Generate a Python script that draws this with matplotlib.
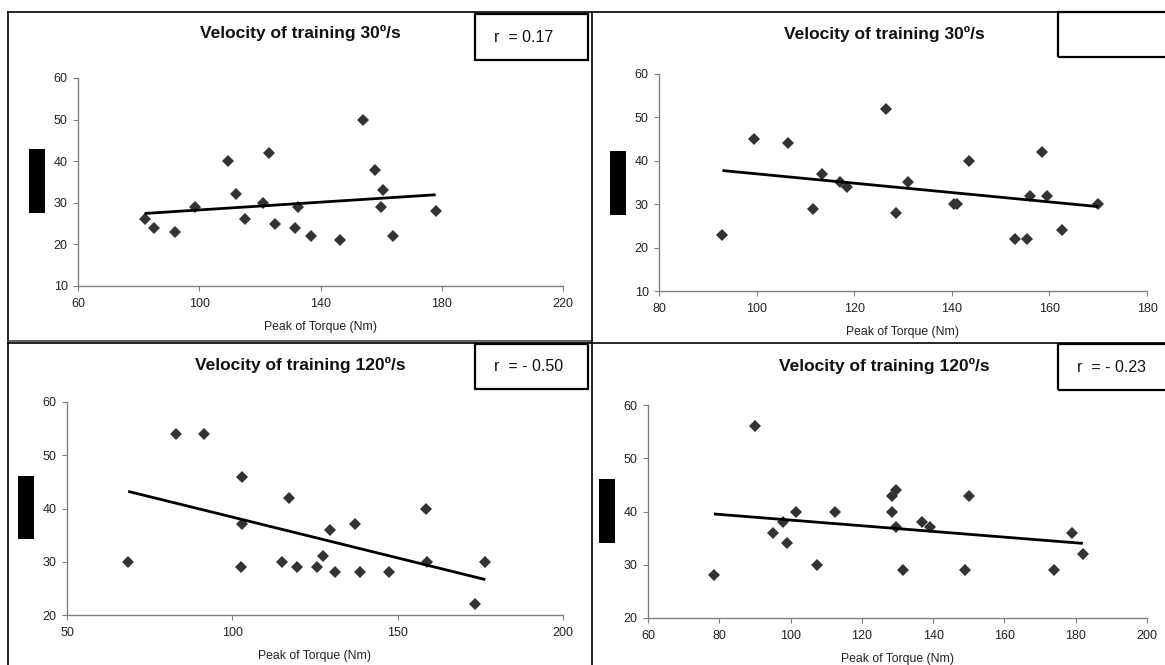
import matplotlib
matplotlib.use("Agg")
import matplotlib.pyplot as plt
from matplotlib.patches import Rectangle
from matplotlib.lines import Line2D
import numpy as np

plt.rcParams["font.family"] = ["Liberation Sans", "DejaVu Sans"]

W, H = 1165, 665

# 30º/s, first group
tl_torque = [82, 85, 92, 98.5, 109.5, 112, 115, 123, 121, 125, 131.5, 132.5,
             137, 146.5, 154, 158, 160.5, 160, 164, 178]
tl_value = [26, 24, 23, 29, 40, 32, 26, 42, 30, 25, 24, 29,
            22, 21, 50, 38, 33, 29, 22, 28]

# 30º/s, second group
tr_torque = [93, 99.5, 106.5, 111.5, 113.5, 117, 118.5, 126.5, 128.5, 131,
             140.5, 141, 143.5, 153, 155.5, 156, 158.5, 159.5, 162.5, 170]
tr_value = [23, 45, 44, 29, 37, 35, 34, 52, 28, 35,
            30, 30, 40, 22, 22, 32, 42, 32, 24, 30]

# 120º/s, first group
bl_torque = [68.5, 83, 91.5, 103, 103, 102.5, 115, 117, 119.5, 125.5,
             127.5, 129.5, 131, 137, 138.5, 147.5, 158.5, 159, 173.5, 176.5]
bl_value = [30, 54, 54, 46, 37, 29, 30, 42, 29, 29,
            31, 36, 28, 37, 28, 28, 40, 30, 22, 30]

# 120º/s, second group
br_torque = [78.5, 90, 95, 98, 99, 101.5, 107.5, 112.5, 128.5, 129.5,
             128.5, 129.5, 131.5, 137, 139, 150, 149, 174, 179, 182]
br_value = [28, 56, 36, 38, 34, 40, 30, 40, 43, 44,
            40, 37, 29, 38, 37, 43, 29, 29, 36, 32]

titles = ["Velocity of training 30º/s", "Velocity of training 30º/s",
          "Velocity of training 120º/s", "Velocity of training 120º/s"]
r_labels = ["r  = 0.17", "", "r  = - 0.50", "r  = - 0.23"]

fig = plt.figure(figsize=(W / 100, H / 100), dpi=100)
fig.patch.set_facecolor("white")


def fx(x):
    return x / W


def fy(y):
    return 1 - y / H


def fig_line(xs, ys, lw=1.2, color="black"):
    fig.add_artist(Line2D([fx(v) for v in xs], [fy(v) for v in ys],
                          transform=fig.transFigure, color=color, lw=lw))


def fig_rect(x0, y0, x1, y1, fill=False, lw=1.6):
    fig.add_artist(Rectangle((fx(x0), fy(y1)), fx(x1) - fx(x0), fy(y0) - fy(y1),
                             transform=fig.transFigure, fill=fill,
                             facecolor="black" if fill else "white",
                             edgecolor="black", lw=0 if fill else lw))


def panel(box, torque, value, xlim, xstep, ylim, title, title_xy, r_text, r_box):
    x0, y0, x1, y1 = box
    ax = fig.add_axes([fx(x0), fy(y1), fx(x1) - fx(x0), fy(y0) - fy(y1)])
    ax.plot(torque, value, "D", color="#333333", ms=6, mew=0, zorder=2)
    slope, icpt = np.polyfit(torque, value, 1)
    xs = np.array([min(torque), max(torque)])
    ax.plot(xs, slope * xs + icpt, color="black", lw=2.0, zorder=3,
            solid_capstyle="butt")
    ax.set_xlim(*xlim)
    ax.set_ylim(*ylim)
    ax.set_xticks(np.arange(xlim[0], xlim[1] + 1, xstep))
    ax.set_yticks(np.arange(ylim[0], ylim[1] + 1, 10))
    for side in ("top", "right"):
        ax.spines[side].set_visible(False)
    for side in ("left", "bottom"):
        ax.spines[side].set_color("#808080")
        ax.spines[side].set_linewidth(1.0)
    ax.tick_params(direction="out", length=3.5, width=0.8, color="#808080",
                   labelsize=9, labelcolor="#222222")
    ax.tick_params(axis="x", pad=5)
    ax.tick_params(axis="y", pad=4)
    ax.set_xlabel("Peak of Torque (Nm)", fontsize=8.8, color="#222222",
                  labelpad=8)
    ax.patch.set_alpha(0)
    fig.text(fx(title_xy[0]), fy(title_xy[1]), title, ha="center", va="center",
             fontsize=12.5, fontweight="bold", color="#111111")
    fig_rect(*r_box)
    if r_text:
        fig.text(fx(r_box[0] + 19), fy((r_box[1] + r_box[3]) / 2), r_text,
                 ha="left", va="center", fontsize=11.5, color="#111111")
    return ax


# panel frames
fig_line([8, 592], [12, 12])
fig_line([8, 8], [12, 341])
fig_line([8, 592], [341, 341], color="#444444")
fig_line([592, 592], [12, 665])
fig_line([592, 1165], [12, 12])
fig_line([8, 592], [343, 343])
fig_line([592, 1165], [343, 343])
fig_line([8, 8], [343, 665])

panel((78, 78, 563, 286), tl_torque, tl_value, (60, 220), 40, (10, 60),
      titles[0], (300, 33), r_labels[0], (475, 14, 588, 60))
panel((659, 74, 1147, 291), tr_torque, tr_value, (80, 180), 20, (10, 60),
      titles[1], (884, 34), r_labels[1], (1058, 12, 1170, 57))
panel((67, 402, 563, 615), bl_torque, bl_value, (50, 200), 50, (20, 60),
      titles[2], (300, 365), r_labels[2], (475, 344, 588, 389))
panel((648, 405, 1147, 618), br_torque, br_value, (60, 200), 20, (20, 60),
      titles[3], (884, 366), r_labels[3], (1058, 344, 1170, 390))

# solid blocks over the y-axis titles
fig_rect(29, 149, 45, 213, fill=True)
fig_rect(610, 151, 626, 215, fill=True)
fig_rect(18, 476, 34, 539, fill=True)
fig_rect(599, 479, 615, 543, fill=True)

fig.savefig("out.png", dpi=100, facecolor="white")
